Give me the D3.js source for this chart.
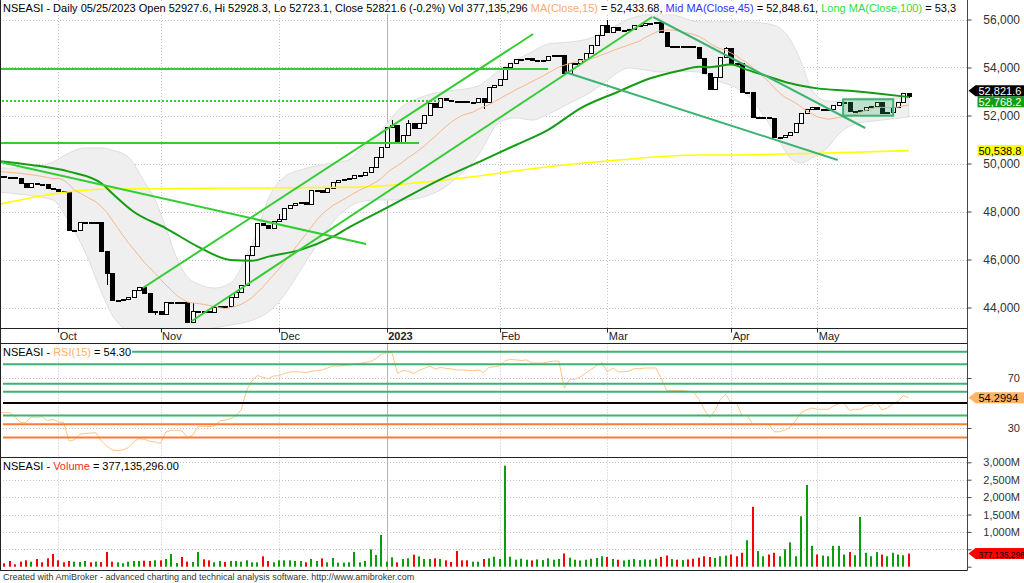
<!DOCTYPE html>
<html>
<head>
<meta charset="utf-8">
<title>NSEASI Daily</title>
<script src="https://cdn.jsdelivr.net/npm/d3@7"></script>
<style>
  html, body { margin: 0; padding: 0; background: #fff; }
  svg { display: block; }
  text { font-family: "Liberation Sans", Arial, sans-serif; }
</style>
</head>
<body>
<svg id="chart" width="1024" height="583"></svg>
<script>
// ---- Trading calendar ----
const firstSession = "2022-09-16";
const lastSession = "2023-05-25";
const holidays = ["2022-10-03", "2022-10-10", "2022-12-26", "2022-12-27", "2023-01-02",
  "2023-04-07", "2023-04-10", "2023-04-21", "2023-04-24", "2023-05-01"];

// ---- Daily closes (index points) ----
const closes = [
  49460, 49450, 49430, 49410, 49175, 49010, 49200, 49135, 49130, 48965,
  48925, 48865, 48825, 47230, 47250, 47565, 47575, 47560, 47575, 46355,
  45440, 44310, 44310, 44335, 44440, 44730, 44835, 44605, 43825, 43835,
  43730, 44240, 44240, 44250, 44230, 43410, 43855, 43875, 43870, 43825,
  44035, 44065, 44045, 44450, 44660, 44940, 46190, 46565, 47500, 47440,
  47315, 47605, 47690, 48135, 48270, 48340, 48385, 48315, 48895, 48915,
  48825, 48965, 49215, 49315, 49340, 49385, 49520, 49525, 49660, 49865,
  50285, 50700, 51535, 51605, 50865, 51190, 51675, 51465, 51700, 52020,
  52510, 52340, 52715, 52645, 52615, 52605, 52585, 52575, 52575, 52715,
  52575, 53200, 53270, 53510, 54010, 54200, 54340, 54340, 54375, 54310,
  54310, 54315, 54480, 54520, 54520, 53785, 54200, 54200, 54340, 54590,
  54940, 55355, 55770, 55490, 55700, 55560, 55565, 55590, 55770, 55770,
  55840, 55865, 55875, 55490, 54895, 54895, 54890, 54895, 54890, 54875,
  54395, 53760, 53105, 53605, 54435, 54810, 54200, 54175, 52990, 52990,
  51950, 51950, 51950, 51915, 51090, 51090, 51190, 51325, 51675, 52115,
  52260, 52365, 52260, 52260, 52270, 52440, 52575, 52575, 52200, 52200,
  52215, 52365, 52395, 52575, 52116, 52160, 52365, 52575, 52927.6, 52821.6
];
const firstOpen = 49470;
// [session, high, low] where the day's range reaches past the body
const wicks = [
  [20, null, 44940], [29, null, 43690], [36, 44190, null], [52, 47900, null],
  [73, 51810, null], [76, 51810, null], [90, null, 52260], [113, 55980, null],
  [135, 54855, null], [169, 52928.3, 52723.1]
];

// ---- Daily volume, millions ----
const volumes = [
  120, 98, 164, 68, 144, 183, 144, 221, 126, 240,
  365, 183, 126, 164, 144, 135, 164, 126, 144, 135,
  422, 144, 126, 98, 144, 164, 164, 173, 164, 183,
  183, 221, 365, 106, 279, 144, 135, 422, 211, 183,
  126, 164, 135, 164, 164, 144, 183, 126, 126, 298,
  164, 126, 183, 183, 183, 164, 164, 126, 221, 164,
  240, 126, 250, 116, 116, 126, 422, 126, 164, 499,
  336, 911, 144, 269, 126, 221, 240, 346, 298, 221,
  221, 240, 221, 183, 135, 451, 183, 183, 144, 144,
  221, 240, 288, 221, 2904, 288, 202, 230, 200, 180,
  210, 190, 240, 200, 220, 380, 260, 200, 180, 200,
  230, 250, 300, 280, 220, 200, 180, 200, 220, 190,
  210, 200, 230, 280, 320, 220, 200, 190, 210, 230,
  260, 300, 280, 250, 300, 320, 350, 300, 400, 760,
  1720, 450, 300, 350, 400, 300, 500, 700, 300, 1450,
  2350, 600, 350, 320, 300, 600, 600, 350, 420, 330,
  1430, 400, 300, 420, 350, 300, 400, 350, 330, 377.135296
];

// ---- RSI(15) ----
const rsi15 = [
  42.3, 42.3, 42.3, 38.5, 34.5, 34.5, 39, 38.5, 39, 35.9,
  37, 35.1, 34.3, 19.5, 20.5, 25, 25.7, 25.9, 26.2, 19.5,
  15.6, 12.6, 11.8, 12.5, 14.3, 19, 21.5, 21, 19.3, 18.8,
  17.7, 26.8, 28.2, 28.2, 27.5, 22.5, 24.4, 31.3, 31.1, 31.2,
  31.6, 35.6, 36.4, 37.5, 39.8, 44.6, 60.4, 68, 72, 70.5,
  69.5, 71.6, 71.8, 73.6, 74.8, 75, 74.8, 74.2, 75.5, 75.8,
  76.5, 78, 79.5, 79.6, 80, 80.5, 81, 81.5, 82.5, 83.1,
  85.5, 89, 90.3, 90.2, 73.7, 75.9, 75.5, 73.7, 76, 77.7,
  79.6, 77.2, 78.5, 77.7, 77.2, 76.4, 76.4, 76.2, 75.9, 76.5,
  74.3, 78.5, 79, 79.6, 83.9, 84.9, 84.5, 84, 84.5, 82,
  82, 82, 83, 83.5, 83.5, 62, 69, 69, 71, 74,
  77, 80, 82.5, 75, 78, 75, 75, 75.5, 77.5, 77.5,
  78, 78, 78, 70, 60, 60, 60, 60, 59.5, 59,
  53, 45, 38, 44, 53, 57, 50, 50, 40, 40,
  33, 33, 33, 33, 27, 27, 28.5, 30.5, 36, 42.5,
  44.5, 46, 45, 45, 45, 47.5, 49.5, 49.5, 44, 45,
  45, 47.5, 48, 50.5, 44.5, 46, 49, 51.5, 56, 54.2994
];

// MA(Close,15) for the opening sessions, before fifteen closes are on screen
const ma15Lead = [49660, 49650, 49630, 49610, 49590, 49560, 49530, 49500, 49460, 49420, 49370, 49380, 49300, 49120];

// Dark green average, [session, value]
const midAvg = [
  [0, 50100], [6, 49940], [13, 49660], [19, 49175], [21, 48760], [25, 47990], [31, 47300],
  [37, 46530], [43, 45980], [47, 45950], [50, 46120], [56, 46400], [62, 46950], [65, 47340],
  [72, 48150], [82, 49340], [90, 50150], [96, 50770], [102, 51400], [108, 52300], [115, 52990],
  [121, 53550], [127, 53900], [130, 54030], [132, 54010], [136, 54130], [139, 53900],
  [143, 53620], [147, 53340], [152, 53130], [158, 53030], [164, 52900], [169, 52768.2]
];
// Yellow long average, [session, value]
const longAvg = [
  [0, 48300], [13, 48825], [19, 48925], [37, 48967], [65, 49008], [84, 49342], [102, 49867],
  [115, 50146], [130, 50354], [133, 50354], [152, 50425], [169, 50538.8]
];
// Grey envelope, [session, upper, lower]
const envelope = [
  [0, 49810, 48810], [5, 49810, 48690], [10, 50060, 48480], [13, 50440, 47560],
  [16, 50650, 46310], [19, 50650, 44650], [21, 50560, 43690], [24, 50270, 43060],
  [27, 49230, 42980], [29, 48480, 43060], [31, 47310, 43100], [33, 46060, 43100],
  [35, 45270, 43060], [37, 44980, 43060], [40, 44810, 43150], [43, 45020, 43270],
  [46, 46150, 43400], [48, 47190, 43560], [50, 48520, 43810], [53, 49440, 44520],
  [56, 49730, 45560], [59, 49900, 46600], [62, 50020, 47560], [65, 50150, 48190],
  [67, 50560, 48400], [70, 51100, 48480], [72, 51650, 48480], [75, 52400, 48480],
  [78, 52730, 48560], [82, 52980, 48900], [85, 53060, 49400], [89, 53230, 50350],
  [93, 53900, 51730], [96, 54310, 51900], [99, 54650, 51810], [102, 54980, 52060],
  [106, 55060, 52520], [110, 55230, 52980], [113, 55560, 53480], [117, 56020, 53980],
  [120, 56190, 53900], [123, 56310, 53810], [126, 56150, 53850], [130, 55900, 53810],
  [133, 55900, 53480], [137, 55900, 53150], [139, 55900, 52850], [142, 55850, 52020],
  [145, 55650, 50900], [147, 55150, 50230], [149, 54230, 50020], [151, 53060, 50230],
  [154, 52600, 50690], [156, 52600, 51230], [159, 52730, 51650], [164, 52730, 51810],
  [169, 52730, 51940]
];

// Study lines drawn on the price pane
const trendLines = [
  { from: [0.2, 50062], to: [68.2, 46646], color: "#33cc33" },
  { from: [26.7, 44812], to: [99.2, 55396], color: "#33cc33" },
  { from: [35.8, 43437], to: [121.3, 56104], color: "#33cc33" },
  { from: [105.1, 53813], to: [155.8, 50146], color: "#3cb371" },
  { from: [121.5, 56104], to: [160.9, 51479], color: "#3cb371" }
];
const levelLines = [
  { value: 53937, from: -0.2, to: 102, dashed: false },
  { value: 52604, from: -0.2, to: 81.9, dashed: true },
  { value: 50854, from: -0.2, to: 78, dashed: false }
];
const zone = { from: 156.8, to: 166.1, top: 52675, bottom: 51992 };

// Horizontal study levels on the RSI pane
const rsiLevels = [
  { value: 91, color: "#3cb371" }, { value: 81, color: "#3cb371" },
  { value: 65.5, color: "#3cb371" }, { value: 59, color: "#3cb371" },
  { value: 50, color: "#000000" }, { value: 40, color: "#3cb371" },
  { value: 33, color: "#ff7a33" }, { value: 22.5, color: "#ff7a33" }
];

const priceTicks = [44000, 46000, 48000, 50000, 52000, 54000, 56000];
const rsiTicks = [30, 70];
const volumeTicks = [0, 500, 1000, 1500, 2000, 2500, 3000];

// ---------------------------------------------------------------
const W = 1024;
const axisX = 967.5;
const mainPane = { top: 0, bottom: 328.5 };
const datePane = { top: 328.5, bottom: 343.5 };
const rsiPane = { top: 343.5, bottom: 457.5 };
const volPane = { top: 457.5, bottom: 570.5 };

const fmtDay = d3.utcFormat("%Y-%m-%d");
const off = new Set(holidays);
const sessions = d3.utcDays(new Date(firstSession + "T00:00Z"), new Date(lastSession + "T12:00Z"))
  .filter(d => d.getUTCDay() !== 0 && d.getUTCDay() !== 6 && !off.has(fmtDay(d)));
const n = closes.length;

const bars = closes.map((c, i) => {
  const o = i ? closes[i - 1] : firstOpen;
  return { i, o, c, h: Math.max(o, c), l: Math.min(o, c), v: volumes[i] };
});
wicks.forEach(([i, h, l]) => { if (h != null) bars[i].h = h; if (l != null) bars[i].l = l; });

const ma15 = closes.map((c, i) => i < 14 ? ma15Lead[i] : d3.mean(closes.slice(i - 14, i + 1)));

const x = d3.scaleLinear().domain([0, n - 1]).range([-0.9, 908.8]);
const yP = d3.scaleLinear().domain([44000, 56000]).range([307.5, 19.5]);
const yR = d3.scaleLinear().domain([30, 70]).range([428, 378]);
const yV = d3.scaleLinear().domain([0, 3000]).range([566.7, 462.3]);
const px = v => Math.round(v) + 0.5;

const monthStarts = sessions.map((d, i) => ({ d, i }))
  .filter(({ d, i }) => i > 0 && d.getUTCMonth() !== sessions[i - 1].getUTCMonth());

const svg = d3.select("#chart");
const defs = svg.append("defs");
function clipTo(id, pane) {
  defs.append("clipPath").attr("id", id).append("rect")
    .attr("x", 0).attr("y", pane.top).attr("width", axisX).attr("height", pane.bottom - pane.top);
  return `url(#${id})`;
}
svg.append("rect").attr("width", W).attr("height", 583).attr("fill", "#fff");

const gridColor = "#c2c2c2";
function monthGrid(g, pane) {
  g.selectAll(null).data(monthStarts).join("line")
    .attr("x1", d => px(x(d.i))).attr("x2", d => px(x(d.i)))
    .attr("y1", pane.top).attr("y2", pane.bottom)
    .attr("stroke", d => d.d.getUTCMonth() === 0 ? "#b4b4b4" : gridColor)
    .attr("stroke-dasharray", d => d.d.getUTCMonth() === 0 ? null : "1,2");
}

// ================= Price pane =================
const main = svg.append("g").attr("clip-path", clipTo("clipMain", mainPane));
main.selectAll(null).data(priceTicks).join("line")
  .attr("x1", 0).attr("x2", axisX).attr("y1", d => px(yP(d))).attr("y2", d => px(yP(d)))
  .attr("stroke", gridColor).attr("stroke-dasharray", "1,2");
monthGrid(main, mainPane);

main.append("path").datum(envelope)
  .attr("d", d3.area().x(d => x(d[0])).y0(d => yP(d[2])).y1(d => yP(d[1])).curve(d3.curveMonotoneX))
  .attr("fill", "#efefef").attr("stroke", "#dedede").attr("stroke-width", 1);

// candles
const cg = main.append("g");
cg.selectAll("line").data(bars.filter(b => b.h > Math.max(b.o, b.c) || b.l < Math.min(b.o, b.c))).join("line")
  .attr("x1", b => Math.round(x(b.i)) + 0.5).attr("x2", b => Math.round(x(b.i)) + 0.5)
  .attr("y1", b => Math.round(yP(b.h))).attr("y2", b => Math.round(yP(b.l)))
  .attr("stroke", "#000");
cg.selectAll("rect").data(bars).join("rect")
  .attr("x", b => Math.round(x(b.i)) - 1.5)
  .attr("width", 4)
  .attr("y", b => Math.round(yP(Math.max(b.o, b.c))) + 0.5)
  .attr("height", b => Math.max(1, Math.round(yP(Math.min(b.o, b.c))) - Math.round(yP(Math.max(b.o, b.c)))))
  .attr("fill", b => b.c >= b.o ? "#fff" : "#000")
  .attr("stroke", "#000").attr("stroke-width", 1);

const lineP = d3.line().x(d => x(d[0])).y(d => yP(d[1])).curve(d3.curveMonotoneX);
main.append("path").datum(longAvg).attr("d", lineP).attr("fill", "none")
  .attr("stroke", "#ffff00").attr("stroke-width", 1.6);
main.append("path").datum(ma15.map((v, i) => [i, v])).attr("d", d3.line().x(d => x(d[0])).y(d => yP(d[1])))
  .attr("fill", "none").attr("stroke", "#f9b68a").attr("stroke-width", 1);
main.append("path").datum(midAvg).attr("d", lineP).attr("fill", "none")
  .attr("stroke", "#159c15").attr("stroke-width", 2);

main.selectAll(null).data(levelLines).join("line")
  .attr("x1", d => x(d.from)).attr("x2", d => x(d.to))
  .attr("y1", d => yP(d.value)).attr("y2", d => yP(d.value))
  .attr("stroke", "#33cc33").attr("stroke-width", 2)
  .attr("stroke-dasharray", d => d.dashed ? "2,2" : null);
main.selectAll(null).data(trendLines).join("line")
  .attr("x1", d => x(d.from[0])).attr("y1", d => yP(d.from[1]))
  .attr("x2", d => x(d.to[0])).attr("y2", d => yP(d.to[1]))
  .attr("stroke", d => d.color).attr("stroke-width", 2);
main.append("rect")
  .attr("x", x(zone.from)).attr("width", x(zone.to) - x(zone.from))
  .attr("y", yP(zone.top)).attr("height", yP(zone.bottom) - yP(zone.top))
  .attr("fill", "rgba(60,179,113,0.25)").attr("stroke", "#3cb371").attr("stroke-width", 2);

// ================= RSI pane =================
const rp = svg.append("g").attr("clip-path", clipTo("clipRsi", rsiPane));
rp.selectAll(null).data(rsiTicks).join("line")
  .attr("x1", 0).attr("x2", axisX).attr("y1", d => px(yR(d))).attr("y2", d => px(yR(d)))
  .attr("stroke", gridColor).attr("stroke-dasharray", "1,2");
monthGrid(rp, rsiPane);
rp.append("path").datum(rsi15).attr("d", d3.line().x((d, i) => x(i)).y(d => yR(d)))
  .attr("fill", "none").attr("stroke", "#ffc48a").attr("stroke-width", 1);
rp.selectAll(null).data(rsiLevels).join("line")
  .attr("x1", 3).attr("x2", axisX).attr("y1", d => yR(d.value)).attr("y2", d => yR(d.value))
  .attr("stroke", d => d.color).attr("stroke-width", 2);

// ================= Volume pane =================
const vp = svg.append("g").attr("clip-path", clipTo("clipVol", volPane));
vp.selectAll(null).data(volumeTicks.filter(v => v > 0)).join("line")
  .attr("x1", 0).attr("x2", axisX).attr("y1", d => px(yV(d))).attr("y2", d => px(yV(d)))
  .attr("stroke", gridColor).attr("stroke-dasharray", "1,2");
monthGrid(vp, volPane);
vp.selectAll("rect").data(bars).join("rect")
  .attr("x", b => Math.round(x(b.i)) - 1)
  .attr("width", 2)
  .attr("y", b => yV(b.v)).attr("height", b => yV(0) - yV(b.v))
  .attr("fill", b => (b.i === 0 ? b.c >= b.o : b.c >= closes[b.i - 1]) ? "#0a9e0a" : "#ff0000");

// ================= Frames and date strip =================
const frame = svg.append("g").attr("stroke", "#222").attr("fill", "none");
[datePane.top, datePane.bottom, rsiPane.bottom, volPane.bottom].forEach(y =>
  frame.append("line").attr("x1", 0).attr("x2", axisX).attr("y1", y).attr("y2", y));
frame.append("line").attr("x1", 0.5).attr("x2", 0.5).attr("y1", 0).attr("y2", volPane.bottom);
frame.append("line").attr("x1", axisX).attr("x2", axisX).attr("y1", 0).attr("y2", volPane.bottom)
  .attr("stroke", "#444");

const dg = svg.append("g");
dg.selectAll("line").data(monthStarts).join("line")
  .attr("x1", d => px(x(d.i))).attr("x2", d => px(x(d.i)))
  .attr("y1", datePane.top).attr("y2", datePane.top + 4).attr("stroke", "#222");
dg.selectAll("text").data(monthStarts).join("text")
  .attr("x", d => x(d.i) + 1.5).attr("y", 339.5)
  .attr("font-size", 11).attr("fill", "#222")
  .attr("font-weight", d => d.d.getUTCMonth() === 0 ? "bold" : null)
  .text(d => d.d.getUTCMonth() === 0 ? d3.utcFormat("%Y")(d.d) : d3.utcFormat("%b")(d.d));

// ================= Right axes =================
function rightAxis(scale, ticks, fmt, size) {
  const g = svg.append("g").attr("transform", `translate(${axisX},0)`)
    .call(d3.axisRight(scale).tickValues(ticks).tickSize(4).tickPadding(0).tickFormat(fmt));
  g.select(".domain").remove();
  g.selectAll(".tick line").attr("stroke", "#444");
  g.selectAll(".tick text").attr("text-anchor", "end").attr("x", 1020 - axisX)
    .attr("font-size", size).attr("font-family", "Liberation Sans, Arial, sans-serif").attr("fill", "#333");
  return g;
}
rightAxis(yP, priceTicks, d3.format(","), 12);
rightAxis(yR, rsiTicks, d3.format("d"), 11);
// the 500M label sits under the volume tag, so only the tick mark is kept there
rightAxis(yV, volumeTicks, v => v && v !== 500 ? d3.format(",")(v) + "M" : "", 11);

function tag(cy, fill, textColor, pointer, text, size) {
  const h = 11, g = svg.append("g");
  if (pointer) {
    g.append("path").attr("fill", fill)
      .attr("d", `M${axisX + 1},${cy} L${axisX + 8},${cy - h / 2} L${W},${cy - h / 2} L${W},${cy + h / 2} L${axisX + 8},${cy + h / 2} Z`);
  } else {
    g.append("rect").attr("x", axisX + 10).attr("y", cy - h / 2).attr("width", W - axisX - 10).attr("height", h).attr("fill", fill);
  }
  g.append("text").attr("x", 978.5).attr("y", cy + 4).attr("font-size", size || 11).attr("fill", textColor).text(text);
}
const last = bars[n - 1];
const midLast = midAvg[midAvg.length - 1][1];
const longLast = longAvg[longAvg.length - 1][1];
const closeTagY = yP(last.c) - 5;
tag(yP(longLast), "#ffff00", "#000", false, d3.format(",.1f")(longLast));
tag(closeTagY + 11, "#129a12", "#fff", false, d3.format(",.1f")(midLast));
tag(closeTagY, "#000", "#fff", true, d3.format(",.1f")(last.c));
tag(yR(rsi15[n - 1]), "#ffb366", "#000", true, d3.format(".4f")(rsi15[n - 1]));
tag(yV(last.v), "#ff0000", "#000", true, d3.format(",")(Math.round(last.v * 1e6)), 8.3);

// ================= Titles =================
function title(y, parts, clipWidth) {
  const g = svg.append("g");
  const bg = g.append("rect").attr("fill", "#fff");
  const t = g.append("text").attr("x", 3).attr("y", y).attr("font-size", 11);
  parts.forEach(([s, c]) => t.append("tspan").attr("fill", c).text(s));
  const bb = t.node().getBBox();
  bg.attr("x", bb.x - 2).attr("y", bb.y).attr("width", Math.min(bb.width + 3, clipWidth)).attr("height", bb.height);
  return g;
}
defs.append("clipPath").attr("id", "clipHead").append("rect").attr("x", 0).attr("y", 0).attr("width", axisX - 1).attr("height", 20);
const change = (last.c / last.o - 1) * 100;
const changeText = (change < 0 ? "-" : "") + d3.format(".1f")(Math.abs(change));
const head = title(12, [
  [`NSEASI - Daily ${d3.utcFormat("%m/%d/%Y")(sessions[n - 1])} Open ${last.o}, Hi ${last.h}, Lo ${last.l}, Close ${last.c} (${changeText}%) Vol ${d3.format(",")(Math.round(last.v * 1e6))} `, "#000"],
  ["MA(Close,15)", "#ffa870"], [" = 52,433.68, ", "#000"],
  ["Mid MA(Close,45)", "#3333ff"], [" = 52,848.61, ", "#000"],
  ["Long MA(Close,100)", "#33dd33"], [" = 53,3", "#000"]
], axisX - 1);
head.attr("clip-path", "url(#clipHead)");
title(356, [["NSEASI - ", "#000"], ["RSI(15)", "#ffb070"], [` = ${d3.format(".2f")(rsi15[n - 1])}`, "#000"]], 400);
title(470, [["NSEASI - ", "#000"], ["Volume", "#ff2a2a"], [` = ${d3.format(",.2f")(Math.round(last.v * 1e6))}`, "#000"]], 400);

svg.append("text").attr("x", 3).attr("y", 580).attr("font-size", 9).attr("fill", "#333")
  .text("Created with AmiBroker - advanced charting and technical analysis software. http://www.amibroker.com");
</script>
</body>
</html>
